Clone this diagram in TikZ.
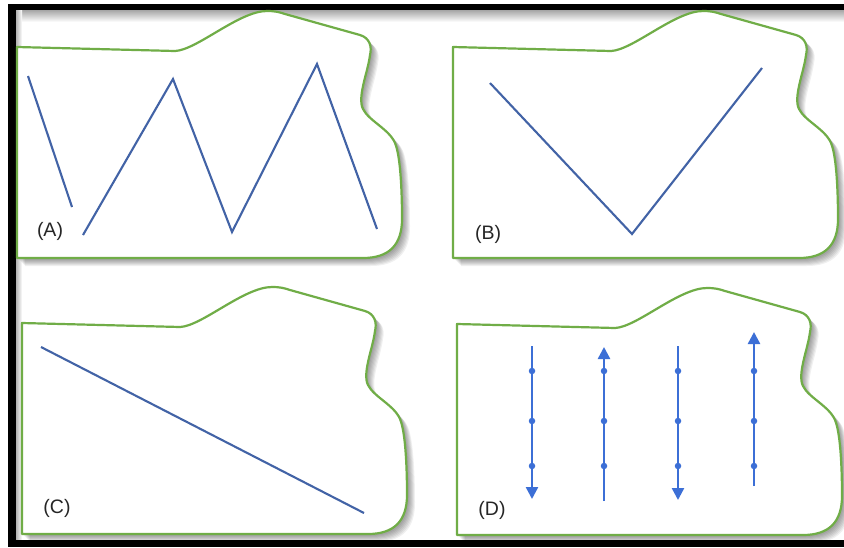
\documentclass[tikz,border=0pt]{standalone}
\usepackage{fontspec}
\setmainfont{Liberation Sans}
\usetikzlibrary{arrows.meta}
\definecolor{shapegreen}{HTML}{70AD47}
\definecolor{zigblue}{HTML}{4263A6}
\definecolor{arrblue}{HTML}{3C6FD6}
\definecolor{labelgray}{HTML}{262626}
\tikzset{
  outline/.style={draw=shapegreen, line width=2.2pt, fill=white, line join=round},
  shadowlayer/.style={fill=black, fill opacity=0.06, draw=none},
  zig/.style={draw=zigblue, line width=2.1pt, line join=miter},
  flow/.style={draw=arrblue, line width=2.5pt, -{Triangle[width=12pt,length=12pt]}},
  flowdot/.style={circle, fill=arrblue, inner sep=0pt, minimum size=6.5pt},
  panellabel/.style={font=\fontsize{19.5}{19.5}\selectfont, text=labelgray, inner sep=0pt}
}
\newcommand\blobpath{(0,0) -- (158,4) .. controls (180,3) and (222,-36) .. (250,-36) .. controls (258,-36) and (262,-35) .. (268,-33) -- (343,-12) .. controls (353,-9) and (355,0) .. (353,8) .. controls (351,25) and (340,50) .. (346,62) .. controls (352,74) and (372,82) .. (378,96) .. controls (384,110) and (385,150) .. (385,172) .. controls (385,198) and (372,211) .. (346,211) -- (0,211) -- cycle}
\newcommand\panelshape[2]{%
  \foreach \s in {2,3,4,5,6,7,8} {
    \fill[shadowlayer, shift={(#1+\s,#2+\s)}] \blobpath;
  }
  \path[outline, shift={(#1,#2)}] \blobpath;
}
\begin{document}
\begin{tikzpicture}[x=1pt, y=-1pt]
\useasboundingbox (0,0) rectangle (844,547);
\fill[white] (0,0) rectangle (844,547);
% frame shadows
\shade[top color=black!35, bottom color=white] (16,10) rectangle (844,22);
\shade[left color=black!30, right color=white] (16,10) rectangle (22,540);
% frame
\fill[black] (8,4) rectangle (844,10);
\fill[black] (8,4) rectangle (16,547);
\fill[black] (8,540) rectangle (844,547);

% panels
\panelshape{17}{47}
\panelshape{453}{47}
\panelshape{22}{323}
\panelshape{457}{324}

% (A) zigzag
\coordinate (a0) at (28,76);
\coordinate (a1) at (72,207);
\coordinate (a2) at (83,235);
\coordinate (a3) at (173,79);
\coordinate (a4) at (232,232);
\coordinate (a5) at (317,64);
\coordinate (a6) at (377,229);
\draw[zig] (a0) -- (a1);
\draw[zig] (a2) -- (a3) -- (a4) -- (a5) -- (a6);
\node[panellabel] (la) at (50,231) {(A)};

% (B) V
\coordinate (b0) at (490,83);
\coordinate (b1) at (632,234);
\coordinate (b2) at (762,68);
\draw[zig] (b0) -- (b1) -- (b2);
\node[panellabel] (lb) at (488,234) {(B)};

% (C) line
\coordinate (c0) at (41,347);
\coordinate (c1) at (364,513);
\draw[zig] (c0) -- (c1);
\node[panellabel] (lc) at (57,508) {(C)};

% (D) flow lines
\coordinate (d1s) at (532,346); \coordinate (d1e) at (532,499);
\coordinate (d2s) at (604,501); \coordinate (d2e) at (604,347);
\coordinate (d3s) at (678,346); \coordinate (d3e) at (678,500);
\coordinate (d4s) at (754,486); \coordinate (d4e) at (754,332);
\draw[flow] (d1s) -- (d1e);
\draw[flow] (d2s) -- (d2e);
\draw[flow] (d3s) -- (d3e);
\draw[flow] (d4s) -- (d4e);
\foreach \xx/\nm in {532/p, 604/q, 678/r, 754/s} {
  \foreach \yy/\k in {371/1, 421/2, 466/3} {
    \node[flowdot] (dot\nm\k) at (\xx,\yy) {};
  }
}
\node[panellabel] (ld) at (492,510) {(D)};
\end{tikzpicture}
\end{document}
